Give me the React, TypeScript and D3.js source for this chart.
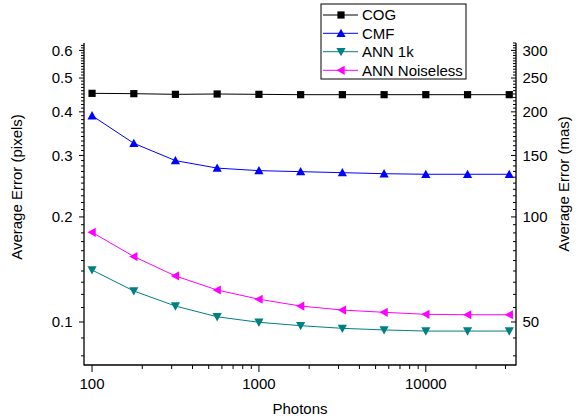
import React from "react";
import * as d3 from "d3";

const photons = [100, 178, 316, 562, 1000, 1778, 3162, 5623, 10000, 17783, 31623];
const cog = [0.452, 0.451, 0.449, 0.450, 0.449, 0.448, 0.448, 0.448, 0.448, 0.448, 0.448];
const cmf = [0.390, 0.325, 0.290, 0.276, 0.2714, 0.2696, 0.2678, 0.266, 0.265, 0.265, 0.265];
const ann1k = [0.1409, 0.1227, 0.1111, 0.1035, 0.0998, 0.0976, 0.0959, 0.0949, 0.0942, 0.0942, 0.0942];
const annNoiseless = [0.1807, 0.154, 0.1355, 0.1235, 0.1162, 0.1111, 0.1082, 0.1066, 0.1052, 0.1049, 0.1049];

const xMajorTicks = [100, 1000, 10000];
const xTickLabels = ["100", "1000", "10000"];
const yLeftMajor = [0.1, 0.2, 0.3, 0.4, 0.5, 0.6];
const yLeftLabels = ["0.1", "0.2", "0.3", "0.4", "0.5", "0.6"];
const yRightMajor = [50, 100, 150, 200, 250, 300];
const yRightLabels = ["50", "100", "150", "200", "250", "300"];

const seriesNames = ["COG", "CMF", "ANN 1k", "ANN Noiseless"];
const seriesColors = ["#000000", "#0000ff", "#008080", "#ff00ff"];
const seriesMarkers = ["square", "triUp", "triDown", "triLeft"];
const seriesData = [cog, cmf, ann1k, annNoiseless];

const W = 581, H = 419;
const left = 84, right = 516, top = 43, bottom = 365;
const font = "'Liberation Sans', Arial, sans-serif";

const x = d3.scaleLog().domain([89.5, 34700]).range([left, right]);
const y = d3.scaleLog().domain([0.0753, 0.63]).range([bottom, top]);
const yR = d3.scaleLog().domain([0.0753 * 500, 0.63 * 500]).range([bottom, top]);

const xMinor: number[] = [];
[100, 1000, 10000].forEach((d) => {
  for (let k = 1; k <= 9; k++) {
    const v = d * k;
    if (v >= 89.5 && v <= 34700) xMinor.push(v);
  }
});
const yLeftMinor = [0.08, 0.09, ...d3.range(10, 63).map((k) => k / 100)];
const yRightMinor = d3.range(40, 316, 5);

function Marker({ type, cx, cy, color }: { type: string; cx: number; cy: number; color: string }) {
  const s = 3.6;
  const t = 4.6;
  if (type === "square") return <rect x={cx - s} y={cy - s} width={2 * s} height={2 * s} fill={color} />;
  let pts: number[][] = [];
  if (type === "triUp") pts = [[cx, cy - t], [cx - t, cy + t * 0.8], [cx + t, cy + t * 0.8]];
  if (type === "triDown") pts = [[cx, cy + t], [cx - t, cy - t * 0.8], [cx + t, cy - t * 0.8]];
  if (type === "triLeft") pts = [[cx - t, cy], [cx + t * 0.8, cy - t], [cx + t * 0.8, cy + t]];
  return <polygon points={pts.map((p) => p.join(",")).join(" ")} fill={color} />;
}

export default function App() {
  const line = d3
    .line<number>()
    .x((_, i) => x(photons[i]))
    .y((d) => y(d));

  const legendX = 321, legendY = 4, legendW = 145, legendH = 75;
  const legendRows = [15, 33.3, 51.7, 70.3];

  return (
    <svg
      width={W}
      height={H}
      style={{ position: "absolute", left: 0, top: 0, background: "#fff" }}
      fontFamily={font}
    >
      <rect x={0} y={0} width={W} height={H} fill="#fff" />
      {/* series */}
      {seriesData.map((data, si) => (
        <g key={si}>
          <path d={line(data) || ""} fill="none" stroke={seriesColors[si]} strokeWidth={1} />
          {data.map((v, i) => (
            <Marker key={i} type={seriesMarkers[si]} cx={x(photons[i])} cy={y(v)} color={seriesColors[si]} />
          ))}
        </g>
      ))}

      {/* axes lines */}
      <line x1={left} x2={left} y1={top} y2={bottom + 0.5} stroke="#000" strokeWidth={1.3} />
      <line x1={right} x2={right} y1={top} y2={bottom + 0.5} stroke="#000" strokeWidth={1.3} />
      <line x1={left} x2={right} y1={bottom} y2={bottom} stroke="#000" strokeWidth={1.3} />

      {/* left ticks */}
      {yLeftMinor.map((v, i) => {
        const major = yLeftMajor.some((m) => Math.abs(m - v) < 1e-9);
        return (
          <line key={i} x1={left} x2={left - (major ? 5 : 3)} y1={y(v)} y2={y(v)} stroke="#000" strokeWidth={1} />
        );
      })}
      {yLeftMajor.map((v, i) => (
        <text key={i} x={72.5} y={y(v) + 5.4} fontSize={15} textAnchor="end" fill="#000">
          {yLeftLabels[i]}
        </text>
      ))}

      {/* right ticks (inward) */}
      {yRightMinor.map((v, i) => {
        const major = yRightMajor.includes(v);
        return (
          <line key={i} x1={right} x2={right - (major ? 5 : 3)} y1={yR(v)} y2={yR(v)} stroke="#000" strokeWidth={1} />
        );
      })}
      {yRightMajor.map((v, i) => (
        <text key={i} x={522.5} y={yR(v) + 5.4} fontSize={15} textAnchor="start" fill="#000">
          {yRightLabels[i]}
        </text>
      ))}

      {/* bottom ticks */}
      {xMinor.map((v, i) => {
        const major = xMajorTicks.includes(v);
        return (
          <line key={i} x1={x(v)} x2={x(v)} y1={bottom} y2={bottom + (major ? 7 : 4)} stroke="#000" strokeWidth={1} />
        );
      })}
      {xMajorTicks.map((v, i) => (
        <text key={i} x={x(v)} y={389} fontSize={15} textAnchor="middle" fill="#000">
          {xTickLabels[i]}
        </text>
      ))}

      {/* titles */}
      <text x={300} y={414} fontSize={15} textAnchor="middle" fill="#000">
        Photons
      </text>
      <text transform="translate(22,187) rotate(-90)" fontSize={15} textAnchor="middle" fill="#000">
        Average Error (pixels)
      </text>
      <text transform="translate(568.5,184) rotate(-90)" fontSize={15} textAnchor="middle" fill="#000">
        Average Error (mas)
      </text>

      {/* legend */}
      <rect x={legendX} y={legendY} width={legendW} height={legendH} fill="#fff" stroke="#000" strokeWidth={1} />
      {seriesNames.map((name, i) => (
        <g key={i}>
          <line x1={323} x2={358} y1={legendRows[i]} y2={legendRows[i]} stroke={seriesColors[i]} strokeWidth={1} />
          <Marker type={seriesMarkers[i]} cx={341} cy={legendRows[i]} color={seriesColors[i]} />
          <text x={362} y={legendRows[i] + 5.4} fontSize={15} fill="#000">
            {name}
          </text>
        </g>
      ))}
    </svg>
  );
}
